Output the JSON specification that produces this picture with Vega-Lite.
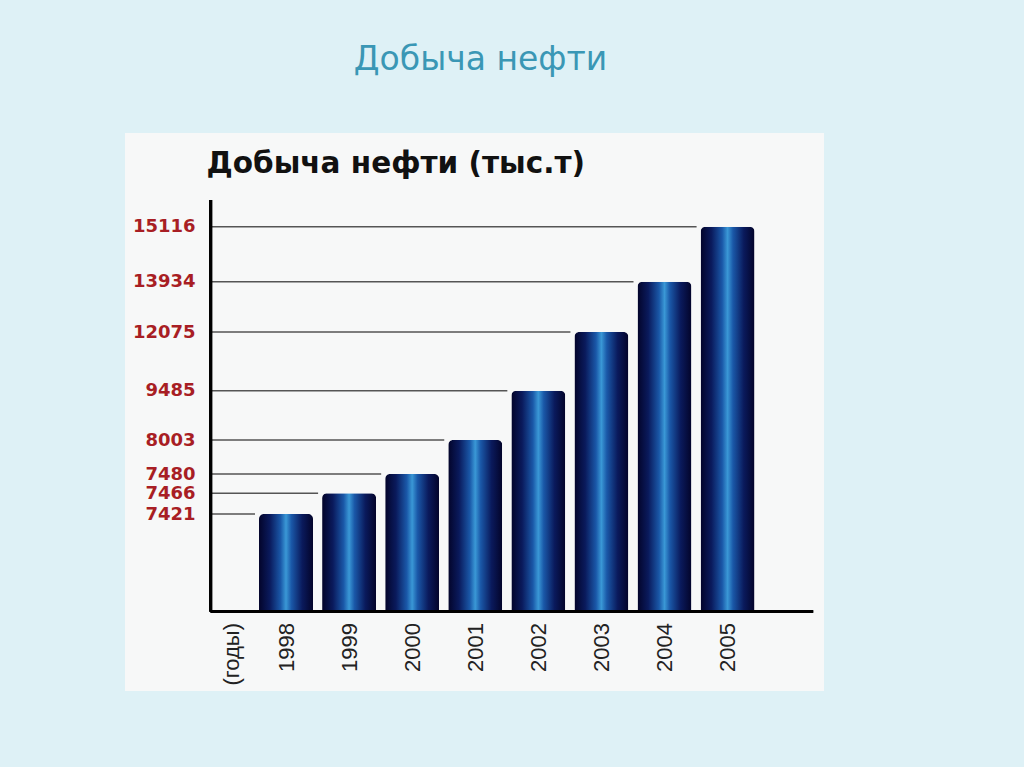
{
  "$schema": "https://vega.github.io/schema/vega-lite/v6.json",
  "width": 699,
  "height": 558,
  "autosize": {"type": "none"},
  "padding": {"left": 125, "top": 133, "right": 200, "bottom": 76},
  "background": "#def1f6",
  "config": {"view": {"fill": "#f7f8f8", "stroke": null}},
  "title": {
    "text": "Добыча нефти",
    "font": "DejaVu Sans",
    "fontSize": 33,
    "fontWeight": "normal",
    "color": "#3a97b5",
    "anchor": "middle",
    "baseline": "alphabetic",
    "offset": 30,
    "dx": 6
  },
  "data": {
    "values": [
      {"year": 1998, "value": 7421},
      {"year": 1999, "value": 7466},
      {"year": 2000, "value": 7480},
      {"year": 2001, "value": 8003},
      {"year": 2002, "value": 9485},
      {"year": 2003, "value": 12075},
      {"year": 2004, "value": 13934},
      {"year": 2005, "value": 15116}
    ]
  },
  "layer": [
    {
      "mark": {"type": "bar", "width": 54, "cornerRadiusTopLeft": 5, "cornerRadiusTopRight": 5,
        "fill": {"gradient": "linear", "x1": 0, "x2": 1, "y1": 0, "y2": 0,
          "stops": [
            {"offset": 0, "color": "#03042a"},
            {"offset": 0.2, "color": "#0a1a5c"},
            {"offset": 0.4, "color": "#1a58a8"},
            {"offset": 0.5, "color": "#3a98d6"},
            {"offset": 0.6, "color": "#1a58a8"},
            {"offset": 0.8, "color": "#0a1a5c"},
            {"offset": 1, "color": "#03042a"}
          ]}},
      "encoding": {
        "x": {"field": "year", "type": "quantitative",
          "scale": {"domain": [1995.527, 2006.449], "nice": false, "zero": false},
          "axis": {
            "values": [1997.136, 1998, 1999, 2000, 2001, 2002, 2003, 2004, 2005],
            "labelExpr": "datum.value < 1997.5 ? '(годы)' : format(datum.value, 'd')",
            "labelAngle": -90, "domain": false, "ticks": false, "tickSize": 0, "grid": false,
            "offset": -79.5, "labelPadding": 11, "labelFont": "Liberation Sans", "labelFontSize": 22,
            "labelColor": "#222222", "title": null, "labelOverlap": false
          }},
        "y": {"field": "value", "type": "quantitative",
          "scale": {
            "domain": [-1000, 0, 7421, 7466, 7480, 8003, 9485, 12075, 13934, 15116, 15650, 17000],
            "range": [558, 478.5, 381, 360.3, 341, 307, 257.7, 199, 148.7, 93.7, 67, 0],
            "nice": false, "zero": false},
          "axis": {
            "values": [7421, 7466, 7480, 8003, 9485, 12075, 13934, 15116],
            "format": "d", "domain": false, "ticks": false, "tickSize": 0, "grid": false,
            "offset": -83, "labelPadding": 13, "labelFont": "DejaVu Sans", "labelFontWeight": "bold",
            "labelFontSize": 18, "labelColor": "#a81e24", "labelOverlap": false,
            "title": "Добыча нефти (тыс.т)", "titleAngle": 0, "titleAlign": "left",
            "titleBaseline": "alphabetic", "titleX": -2, "titleY": 39,
            "titleFont": "DejaVu Sans", "titleFontSize": 29.5, "titleFontWeight": "bold", "titleColor": "#111111"
          }}
      }
    },
    {
      "mark": {"type": "rule", "color": "#555555", "strokeWidth": 1.6, "xOffset": -31},
      "encoding": {
        "x": {"field": "year", "type": "quantitative"},
        "x2": {"datum": 1996.808},
        "y": {"field": "value", "type": "quantitative"}
      }
    },
    {
      "mark": {"type": "rule", "color": "#000000", "strokeWidth": 2.5},
      "encoding": {
        "x": {"datum": 1996.808, "type": "quantitative"},
        "x2": {"datum": 2006.355},
        "y": {"datum": 0, "type": "quantitative"}
      }
    },
    {
      "mark": {"type": "rule", "color": "#000000", "strokeWidth": 2.5},
      "encoding": {
        "x": {"datum": 1996.808, "type": "quantitative"},
        "y": {"datum": 0, "type": "quantitative"},
        "y2": {"datum": 15650}
      }
    }
  ]
}
